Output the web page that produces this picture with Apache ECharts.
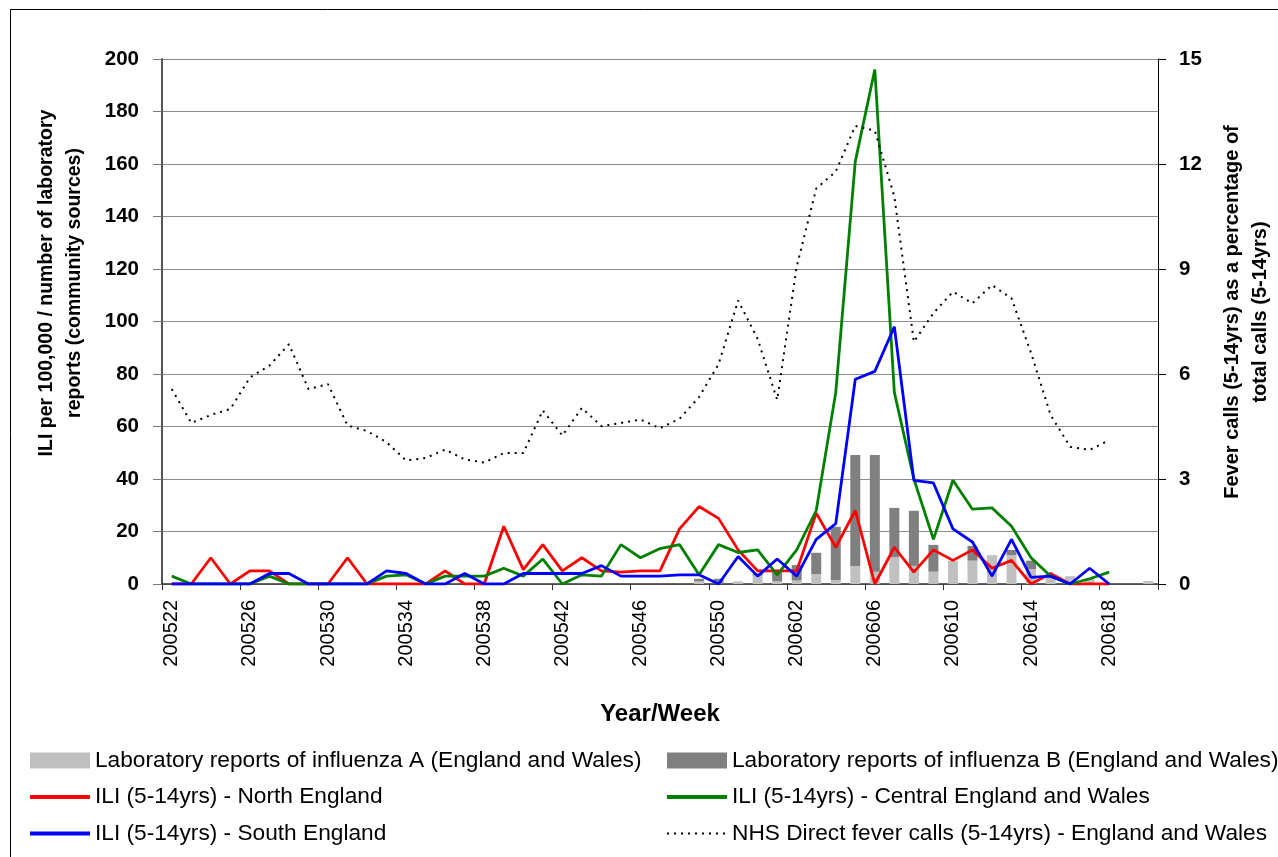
<!DOCTYPE html>
<html>
<head>
<meta charset="utf-8">
<script src="https://cdn.jsdelivr.net/npm/echarts@6/dist/echarts.min.js"></script>
<style>
html,body{margin:0;padding:0;background:#fff;}
#chart{width:1278px;height:857px;}
</style>
</head>
<body>
<div id="chart"></div>
<script>
var weeks = ['200522','200523','200524','200525','200526','200527','200528','200529','200530','200531',
  '200532','200533','200534','200535','200536','200537','200538','200539','200540','200541',
  '200542','200543','200544','200545','200546','200547','200548','200549','200550','200551',
  '200552','200601','200602','200603','200604','200605','200606','200607','200608','200609',
  '200610','200611','200612','200613','200614','200615','200616','200617','200618','200619','200620'];

var leftTicks = [0,20,40,60,80,100,120,140,160,180,200];
var rightTicks = [0,3,6,9,12,15];

var fluA = [0,0,0,0,0,0,0,0,0,0, 0,0,0,0,0,0,0,0,0,0, 0,0,0,0,0,0,0,1,0,1,
  3.2,1,1.3,3.8,1.5,6.9,4.7,10.2,6.9,4.7, 8.8,8.9,11,11,5.7,2.5,3,2,0,0,1.1];
var fluB = [0,0,0,0,0,0,0,0,0,0, 0,0,0,0,0,0,0,0,0,0, 0,0,0,0,0,0,0,1,2,0,
  0.8,4.3,5.9,8.1,20.3,42.2,44.4,18.8,21,10.2, 0,5.6,0,2,3.2,0,0,0,0,0,0];

var iliNorth = [0,0,10,0,5,5,0,0,0,10, 0,0,0,0,5,0,0,22,5.5,15, 5,10,5,4.5,5,5,21,29.5,25,13,
  5,5,5,27,14,28,0,14,4.5,13, 9,13,6,9,0,4,0,0,0,null,null];
var iliCentral = [3,0,0,0,0,3,0,0,0,0, 0,3,3.5,0,3,3,3,6,3,9.5, 0,3.5,3,15,10,13.5,15,3.5,15,12,
  13,3.5,13,28,73,161,196,73,40,17, 39.5,28.5,29,22,10,3,0,2,4.5,null,null];
var iliSouth = [0,0,0,0,0,4,4,0,0,0, 0,5,4,0,0,4,0,0,4,4, 4,4,7,3,3,3,3.5,3.5,0,10.5,
  3,9.5,3,17,23,78,81,98,39.5,38.5, 21,16,3,17,2.5,3,0,6,0,null,null];
var nhsFever = [5.57,4.6,4.83,5.0,5.9,6.24,6.85,5.57,5.71,4.53, 4.37,4.05,3.53,3.6,3.84,3.56,3.47,3.74,3.74,4.96,
  4.24,5.03,4.51,4.6,4.7,4.45,4.72,5.34,6.28,8.1, 7.0,5.26,9.07,11.3,11.78,13.09,12.95,11.07,6.92,7.74,
  8.35,8.02,8.54,8.16,6.6,4.83,3.92,3.83,4.11,null,null];

var names = {
  A: 'Laboratory reports of influenza A (England and Wales)',
  B: 'Laboratory reports of influenza B (England and Wales)',
  N: 'ILI (5-14yrs) - North England',
  C: 'ILI (5-14yrs) - Central England and Wales',
  S: 'ILI (5-14yrs) - South England',
  F: 'NHS Direct fever calls (5-14yrs) - England and Wales'
};

var FONT = '"Liberation Sans", Arial, Helvetica, sans-serif';
var chart = echarts.init(document.getElementById('chart'), null, {renderer: 'canvas'});

var hideSym = {opacity: 0};
var thickLine = {width: 4};
var legendText = {fontSize: 22.7, lineHeight: 22, fontFamily: FONT, color: '#000'};

var option = {
  backgroundColor: '#ffffff',
  animation: false,
  textStyle: {fontFamily: FONT, color: '#000'},
  grid: {left: 162, right: 120, top: 59, bottom: 273, containLabel: false, outerBoundsMode: 'none'},
  legend: [
    {
      orient: 'vertical', left: 28, top: 749, padding: 0,
      itemWidth: 60, itemHeight: 16, itemGap: 13.5,
      textStyle: legendText,
      data: [{name: names.A, icon: 'rect'},
        {name: names.N, itemStyle: hideSym, lineStyle: thickLine},
        {name: names.S, itemStyle: hideSym, lineStyle: thickLine}]
    },
    {
      orient: 'vertical', left: 665, top: 749, padding: 0,
      itemWidth: 60, itemHeight: 16, itemGap: 13.5,
      textStyle: legendText,
      data: [{name: names.B, icon: 'rect'},
        {name: names.C, itemStyle: hideSym, lineStyle: thickLine},
        {name: names.F, itemStyle: hideSym, lineStyle: {width: 2}}]
    }
  ],
  xAxis: {
    type: 'category',
    data: weeks,
    boundaryGap: true,
    axisLine: {show: true, lineStyle: {color: '#333', width: 1.5}},
    axisTick: {show: true, length: 6, interval: function (i) { return i % 4 === 0; }, lineStyle: {color: '#333'}},
    axisLabel: {
      interval: function (i) { return i % 4 === 0; },
      rotate: 90, margin: 16, fontSize: 20, fontFamily: FONT, color: '#000'
    },
    splitLine: {show: false}
  },
  yAxis: [
    {
      type: 'value', min: 0, max: 200, interval: 20,
      axisLine: {show: true, lineStyle: {color: '#555', width: 2}},
      axisTick: {show: true, length: 9, lineStyle: {color: '#777'}},
      axisLabel: {fontSize: 20.5, fontWeight: 'bold', margin: 23, fontFamily: FONT, color: '#000',
        formatter: function (v) { return leftTicks.indexOf(v) >= 0 ? String(v) : ''; }},
      splitLine: {show: true, lineStyle: {color: '#8c8c8c', width: 1}}
    },
    {
      type: 'value', min: 0, max: 15, interval: 3, position: 'right',
      axisLine: {show: true, lineStyle: {color: '#000', width: 1}},
      axisTick: {show: true, length: 8, lineStyle: {color: '#000'}},
      axisLabel: {fontSize: 20.5, fontWeight: 'bold', margin: 21, fontFamily: FONT, color: '#000',
        formatter: function (v) { return rightTicks.indexOf(v) >= 0 ? String(v) : ''; }},
      splitLine: {show: false}
    }
  ],
  series: [
    {name: names.A, type: 'bar', stack: 'flu', data: fluA, barWidth: 10,
      itemStyle: {color: '#c0c0c0'}, z: 2},
    {name: names.B, type: 'bar', stack: 'flu', data: fluB, barWidth: 10,
      itemStyle: {color: '#808080'}, z: 2},
    {name: names.N, type: 'line', data: iliNorth, symbol: 'none', showSymbol: false,
      lineStyle: {color: '#ff0000', width: 2.8}, itemStyle: {color: '#ff0000'}, z: 3},
    {name: names.C, type: 'line', data: iliCentral, symbol: 'none', showSymbol: false,
      lineStyle: {color: '#008000', width: 2.8}, itemStyle: {color: '#008000'}, z: 3},
    {name: names.S, type: 'line', data: iliSouth, symbol: 'none', showSymbol: false,
      lineStyle: {color: '#0000ff', width: 2.8}, itemStyle: {color: '#0000ff'}, z: 3},
    {name: names.F, type: 'line', yAxisIndex: 1, data: nhsFever, symbol: 'none', showSymbol: false,
      lineStyle: {color: '#000000', width: 2, type: [2, 5]}, itemStyle: {color: '#000000'}, z: 4}
  ],
  graphic: [
    {type: 'rect', shape: {x: 10.5, y: 9.5, width: 1300, height: 900}, silent: true,
      style: {fill: null, stroke: '#000', lineWidth: 1}, z: -1},
    {type: 'text', x: 61, y: 283, rotation: Math.PI / 2, silent: true,
      style: {text: 'ILI per 100,000 / number of laboratory\nreports (community sources)',
        font: 'bold 19.5px ' + FONT, fill: '#000', align: 'center', verticalAlign: 'middle', lineHeight: 28}},
    {type: 'text', x: 1246, y: 312, rotation: Math.PI / 2, silent: true,
      style: {text: 'Fever calls (5-14yrs) as a percentage of\ntotal calls (5-14yrs)',
        font: 'bold 20px ' + FONT, fill: '#000', align: 'center', verticalAlign: 'middle', lineHeight: 28}},
    {type: 'text', x: 660, y: 714, silent: true,
      style: {text: 'Year/Week', font: 'bold 24px ' + FONT, fill: '#000', align: 'center', verticalAlign: 'middle'}}
  ]
};
chart.setOption(option);
</script>
</body>
</html>
